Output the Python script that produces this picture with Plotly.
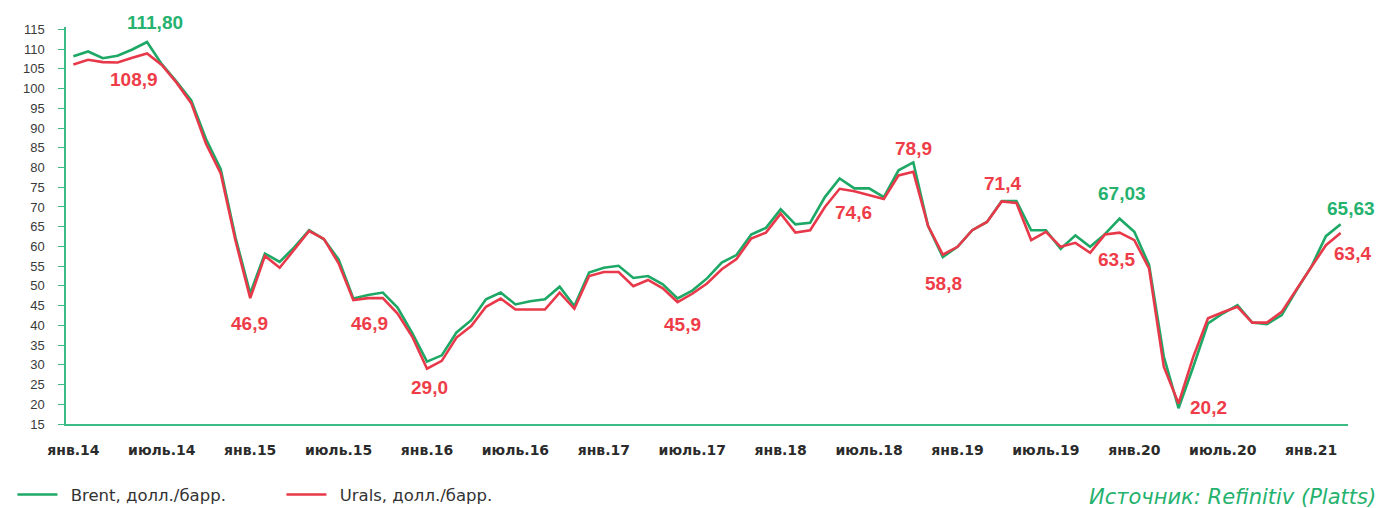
import plotly.graph_objects as go

# Monthly averages, Jan 2014 - Mar 2021, USD per barrel
month_names = ["янв", "фев", "март", "апр", "май", "июнь",
               "июль", "авг", "сент", "окт", "нояб", "дек"]
years = ["14", "15", "16", "17", "18", "19", "20", "21"]
months = [f"{m}.{y}" for y in years for m in month_names][:87]

brent = [
    108.2, 109.4, 107.7, 108.3, 109.9, 111.80, 106.2, 101.8, 97.0, 87.2, 79.6, 62.3,
    48.1, 58.2, 56.1, 59.8, 64.1, 61.8, 56.7, 46.8, 47.7, 48.3, 44.5, 38.0,
    30.8, 32.4, 38.2, 41.3, 46.6, 48.3, 45.3, 46.1, 46.6, 49.8, 44.9, 53.4,
    54.6, 55.1, 52.0, 52.5, 50.4, 46.8, 48.8, 51.9, 55.9, 57.8, 63.0, 64.7,
    69.4, 65.6, 66.0, 72.5, 77.2, 74.7, 74.7, 72.5, 79.3, 81.3, 65.2, 57.3,
    59.9, 64.1, 66.2, 71.5, 71.5, 64.1, 64.1, 59.4, 62.8, 59.9, 63.1, 67.03,
    63.7, 55.3, 32.1, 19.0, 29.5, 40.5, 43.0, 45.1, 40.7, 40.3, 42.6, 48.9,
    54.8, 62.6, 65.63,
]

urals = [
    106.1, 107.3, 106.7, 106.6, 107.8, 108.9, 106.0, 101.5, 96.3, 86.0, 78.5, 61.5,
    46.9, 57.6, 54.6, 59.3, 63.9, 61.9, 55.7, 46.4, 46.9, 46.9, 43.0, 37.1,
    29.0, 31.0, 36.9, 39.8, 44.7, 46.8, 44.0, 44.0, 44.0, 48.3, 44.2, 52.5,
    53.5, 53.5, 49.9, 51.5, 49.4, 45.9, 48.0, 50.6, 54.2, 56.8, 62.0, 63.5,
    68.3, 63.5, 64.1, 70.0, 74.6, 74.0, 73.0, 72.0, 78.0, 78.9, 65.2, 57.9,
    59.9, 64.1, 66.2, 71.4, 71.0, 61.6, 63.7, 59.9, 60.9, 58.4, 63.0, 63.5,
    61.6, 54.4, 29.5, 20.2, 32.0, 41.8, 43.3, 44.7, 40.7, 40.7, 43.4, 48.9,
    54.7, 60.3, 63.4,
]

tick_labels = months[::6]

GREEN = "#1ea866"
RED = "#e8394a"
GREEN_TXT = "#24b26e"
RED_TXT = "#ee3d49"
AXIS = "#3dbb84"

series = {"brent": brent, "urals": urals}

# value labels: (text, series, month index, xshift, yshift)
labels = [
    ("111,80", "brent", 5, 8, 20),
    ("108,9", "urals", 5, -13, -26),
    ("46,9", "urals", 12, -1, -25),
    ("46,9", "urals", 20, 1, -25),
    ("29,0", "urals", 24, 2, -19),
    ("45,9", "urals", 41, 5, -22),
    ("74,6", "urals", 52, 14, -24),
    ("78,9", "urals", 57, 0, 23),
    ("58,8", "urals", 59, 1, -29),
    ("71,4", "urals", 63, 1, 18),
    ("67,03", "brent", 71, 2, 25),
    ("63,5", "urals", 71, -3, -27),
    ("20,2", "urals", 75, 30, -4),
    ("65,63", "brent", 86, 10, 16),
    ("63,4", "urals", 86, 12, -20),
]

fig = go.Figure()
fig.add_trace(go.Scatter(
    x=months, y=brent, mode="lines", name="\u2002Brent, долл./барр.",
    line=dict(color=GREEN, width=2.6),
))
fig.add_trace(go.Scatter(
    x=months, y=urals, mode="lines", name="\u2002Urals, долл./барр.",
    line=dict(color=RED, width=2.6),
))

for text, key, idx, dx, dy in labels:
    fig.add_annotation(
        x=months[idx], y=series[key][idx], xref="x", yref="y",
        text=text, showarrow=False, xshift=dx, yshift=dy,
        font=dict(family="Liberation Sans, Arial", size=19, weight="bold",
                  color=GREEN_TXT if key == "brent" else RED_TXT),
    )

fig.add_annotation(
    x=1.0234, y=-0.184, xref="paper", yref="paper",
    xanchor="right", yanchor="middle", showarrow=False,
    text="Источник: Refinitiv (Platts)",
    font=dict(family="DejaVu Sans", size=21, style="italic", color=GREEN_TXT),
)

fig.update_layout(
    width=1382, height=508,
    margin=dict(l=66, r=34, t=27, b=84),
    paper_bgcolor="white", plot_bgcolor="white",
    showlegend=True,
    legend=dict(
        orientation="h", xref="container", yref="container",
        x=0.009, y=0.026, xanchor="left", yanchor="middle",
        itemwidth=40, entrywidth=214, entrywidthmode="pixels",
        font=dict(family="DejaVu Sans", size=16.5, color="#333333"),
        bgcolor="rgba(0,0,0,0)",
    ),
    xaxis=dict(
        type="category", range=[-0.5, 86.5],
        tickmode="array", tickvals=tick_labels, ticktext=tick_labels,
        showline=True, linecolor=AXIS, linewidth=1.5,
        showgrid=False, zeroline=False, ticks="",
        ticklabelstandoff=12,
        tickfont=dict(family="DejaVu Sans", size=14, weight="bold", color="#2b2b2b"),
    ),
    yaxis=dict(
        range=[15, 115.6], tick0=15, dtick=5,
        showline=True, linecolor=AXIS, linewidth=1.5,
        ticks="outside", ticklen=6, tickcolor=AXIS, tickwidth=1.2,
        showgrid=False, zeroline=False,
        ticklabelstandoff=11,
        tickfont=dict(family="Liberation Sans, Arial", size=13, color="#3a3a3a"),
    ),
)

# drop the default page margin so the figure sits at the window origin
fig.write_html("out.html", config={"displayModeBar": False},
               post_script="document.body.style.margin = '0';")
